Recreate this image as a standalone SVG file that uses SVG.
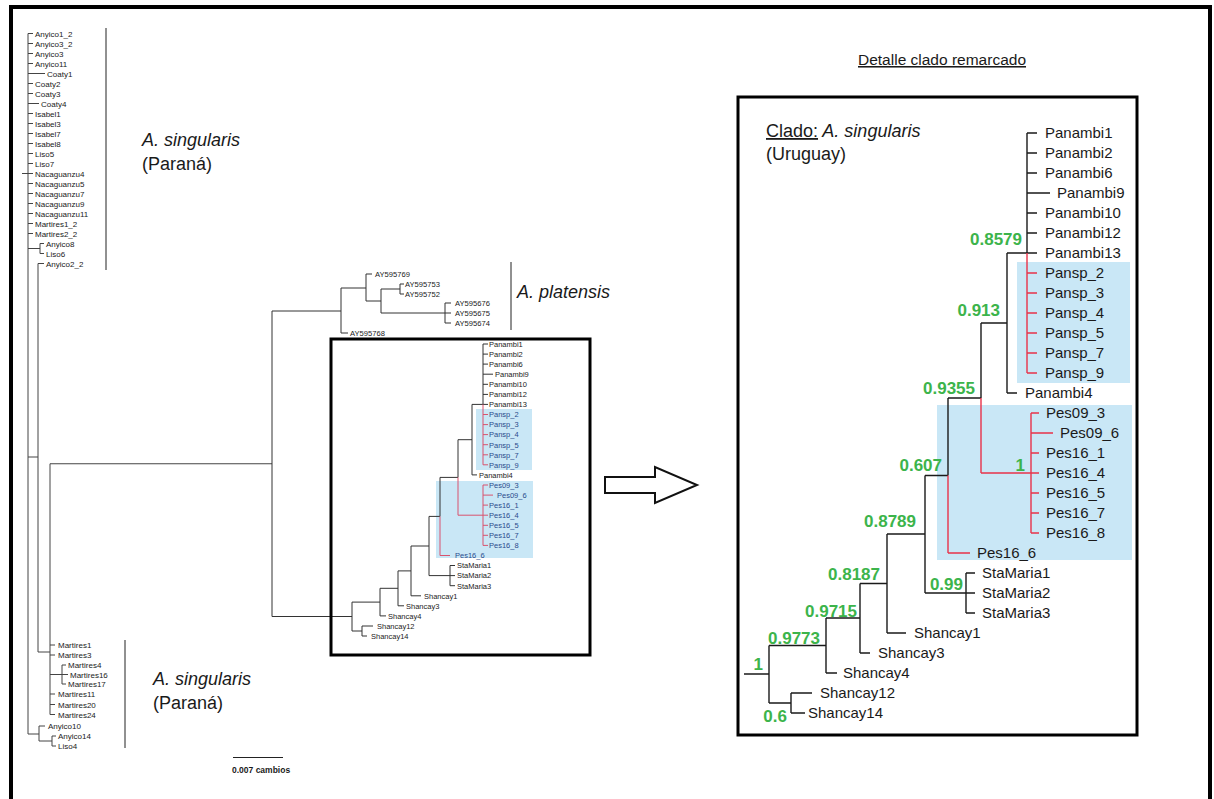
<svg xmlns="http://www.w3.org/2000/svg" width="1214" height="799" viewBox="0 0 1214 799">
<style>
text{font-family:"Liberation Sans",Arial,Helvetica,sans-serif;fill:#1a1a1a}
.l{font-size:8px}
.m{font-size:7.5px}
.mb{font-size:7.5px;fill:#2b4c8c}
.p{font-size:7.6px}
.d{font-size:15px}
.g{font-size:17px;font-weight:bold;fill:#3cb44b;text-anchor:end}
.big{font-size:18px}
.it{font-style:italic}
.tl{fill:none;stroke:#444;stroke-width:1}
.tm{fill:none;stroke:#333;stroke-width:1}
.rm{fill:none;stroke:#d9536e;stroke-width:1}
.td{fill:none;stroke:#1a1a1a;stroke-width:1.4}
.rd{fill:none;stroke:#e8334a;stroke-width:1.4}
.hl{fill:#c9e7f6}
.bar{stroke:#222;stroke-width:1}
</style>
<rect width="1214" height="799" fill="#fff"/>
<rect x="11" y="7" width="1199" height="800" fill="none" stroke="#000" stroke-width="4"/>

<!-- highlight boxes -->
<rect class="hl" x="476" y="409" width="56" height="61"/>
<rect class="hl" x="436" y="481" width="97" height="77"/>
<rect class="hl" x="1017" y="262" width="113" height="121"/>
<rect class="hl" x="937" y="405" width="195" height="155"/>

<g id="connectors">
<!-- left tree -->
<path class="tl" d="M28 33.5V734 M22 173.5H28
M28 33.5H33 M28 43.5H33 M28 53.5H33 M28 63.5H33 M28 73.5H45 M28 83.5H33 M28 93.5H33 M28 103.5H39
M28 113.5H33 M28 123.5H33 M28 133.5H33 M28 143.5H33 M28 153.5H33 M28 163.5H33 M28 173.5H33 M28 183.5H33
M28 193.5H33 M28 203.5H33 M28 213.5H33 M28 223.5H33 M28 233.5H33
M28 248.5H40 M40 243.5V253.5 M40 243.5H44 M40 253.5H44
M28 457H38 M38 263.5V652 M38 263.5H44 M38 652H50
M50 463.75V714.5 M50 463.75H272
M50 645H55 M50 655H55 M50 674.5H62 M62 665V684 M62 665H66 M62 674.5H68 M62 684H66 M50 694H55 M50 704.5H55 M50 714.5H55
M28 734H39 M39 726V741 M39 726H45 M39 741H52 M52 736V746 M52 736H56 M52 746H56"/>
<!-- platensis + middle tree -->
<path class="tm" d="M272 311V616.5 M272 311H341 M341 288V333 M341 333H348 M341 288H366 M366 274V301 M366 274H372 M366 301H381
M381 289V313 M381 289H400 M400 284V294 M400 284H404 M400 294H404 M381 313H445 M445 303V323 M445 303H451 M445 313H451 M445 323H451
M483 344V404.4 M483 344H488 M483 354.1H488 M483 364.1H488 M483 374.2H493 M483 384.3H488 M483 394.4H488 M483 404.4H488
M472 404.4H483 M472 404.4V474.9 M472 474.9H477 M458 439.7H472 M458 439.7V477.4
M440 477.4H458 M440 477.4V516.4
M429 516.4H440 M429 516.4V575.6 M429 575.6H450 M450 565.5V585.7 M450 565.5H455 M450 575.6H455 M450 585.7H455
M411 546H429 M411 546V595.8 M411 595.8H421
M398 570.9H411 M398 570.9V605.8 M398 605.8H404
M380 588.3H398 M380 588.3V615.9 M380 615.9H386
M352 602.1H380 M352 602.1V631 M352 631H362 M362 626V636 M362 626H373 M362 636H367
M272 616.5H352"/>
<path class="rm" d="M483 404.4V464.8 M483 414.5H488 M483 424.6H488 M483 434.6H488 M483 444.7H488 M483 454.8H488 M483 464.8H488
M458 477.4V515.2 M458 515.2H483 M483 485V545.4 M483 485H488 M483 495.1H493 M483 505.1H488 M483 515.2H488 M483 525.3H488 M483 535.3H488 M483 545.4H488
M440 516.4V555.5 M440 555.5H450"/>
<!-- detail tree -->
<path class="td" d="M1027 133V253 M1027 133H1037 M1027 153H1037 M1027 173H1037 M1027 193H1050 M1027 213H1037 M1027 233H1037 M1027 253H1037
M1007 253H1027 M1007 253V393 M1007 393H1017 M981 323H1007 M981 323V398
M948 398H981 M948 398V475.5
M925 475.5H948 M925 475.5V593 M925 593H966 M966 573V613 M966 573H975 M966 593H975 M966 613H975
M887 534H925 M887 534V633 M887 633H906
M860 583.5H887 M860 583.5V653 M860 653H870
M826 618H860 M826 618V673 M826 673H837
M769 645.5H826 M769 645.5V703 M769 703H791 M791 693V713 M791 693H812 M791 713H805
M744 674H769"/>
<path class="rd" d="M1027 253V373 M1027 273H1037 M1027 293H1037 M1027 313H1037 M1027 333H1037 M1027 353H1037 M1027 373H1037
M981 398V473 M981 473H1031 M1031 413V533 M1031 413H1039 M1031 433H1053 M1031 453H1039 M1031 473H1039 M1031 493H1039 M1031 513H1039 M1031 533H1039
M948 475.5V553 M948 553H970"/>
</g>

<!-- brackets, frames -->
<line class="bar" x1="106" y1="28" x2="106" y2="270"/>
<line class="bar" x1="125" y1="640" x2="125" y2="748"/>
<line class="bar" x1="511" y1="262" x2="511" y2="330"/>
<rect x="331" y="339" width="259" height="316" fill="none" stroke="#000" stroke-width="3"/>
<rect x="738" y="97" width="399" height="638" fill="none" stroke="#000" stroke-width="3"/>
<polygon points="605,477 655,477 655,467 697,485 655,503 655,493 605,493" fill="#fff" stroke="#111" stroke-width="2"/>
<line x1="233" y1="757.5" x2="283" y2="757.5" stroke="#222" stroke-width="1"/>

<!-- left leaves -->
<g id="left-leaves" class="l">
<g id="Anyico1_2"><text x="35" y="36.5">Anyico1_2</text></g>
<g id="Anyico3_2"><text x="35" y="46.5">Anyico3_2</text></g>
<g id="Anyico3"><text x="35" y="56.5">Anyico3</text></g>
<g id="Anyico11"><text x="35" y="66.5">Anyico11</text></g>
<g id="Coaty1"><text x="47" y="76.5">Coaty1</text></g>
<g id="Coaty2"><text x="35" y="86.5">Coaty2</text></g>
<g id="Coaty3"><text x="35" y="96.5">Coaty3</text></g>
<g id="Coaty4"><text x="41" y="106.5">Coaty4</text></g>
<g id="Isabel1"><text x="35" y="116.5">Isabel1</text></g>
<g id="Isabel3"><text x="35" y="126.5">Isabel3</text></g>
<g id="Isabel7"><text x="35" y="136.5">Isabel7</text></g>
<g id="Isabel8"><text x="35" y="146.5">Isabel8</text></g>
<g id="Liso5"><text x="35" y="156.5">Liso5</text></g>
<g id="Liso7"><text x="35" y="166.5">Liso7</text></g>
<g id="Nacaguanzu4"><text x="35" y="176.5">Nacaguanzu4</text></g>
<g id="Nacaguanzu5"><text x="35" y="186.5">Nacaguanzu5</text></g>
<g id="Nacaguanzu7"><text x="35" y="196.5">Nacaguanzu7</text></g>
<g id="Nacaguanzu9"><text x="35" y="206.5">Nacaguanzu9</text></g>
<g id="Nacaguanzu11"><text x="35" y="216.5">Nacaguanzu11</text></g>
<g id="Martires1_2"><text x="35" y="226.5">Martires1_2</text></g>
<g id="Martires2_2"><text x="35" y="236.5">Martires2_2</text></g>
<g id="Anyico8"><text x="46" y="246.5">Anyico8</text></g>
<g id="Liso6"><text x="46" y="256.5">Liso6</text></g>
<g id="Anyico2_2"><text x="46" y="266.5">Anyico2_2</text></g>
<g id="Martires1"><text x="58" y="648">Martires1</text></g>
<g id="Martires3"><text x="58" y="658">Martires3</text></g>
<g id="Martires4"><text x="68" y="668">Martires4</text></g>
<g id="Martires16"><text x="70" y="677.5">Martires16</text></g>
<g id="Martires17"><text x="68" y="687">Martires17</text></g>
<g id="Martires11"><text x="58" y="697">Martires11</text></g>
<g id="Martires20"><text x="58" y="707.5">Martires20</text></g>
<g id="Martires24"><text x="58" y="717.5">Martires24</text></g>
<g id="Anyico10"><text x="48" y="729">Anyico10</text></g>
<g id="Anyico14"><text x="58" y="739">Anyico14</text></g>
<g id="Liso4"><text x="58" y="749">Liso4</text></g>
</g>

<g id="labels-left">
<text class="big it" x="142" y="146">A. singularis</text>
<text class="big" x="142" y="170">(Paraná)</text>
<text class="big it" x="153" y="685">A. singularis</text>
<text class="big" x="153" y="709">(Paraná)</text>
<text x="232" y="773" style="font-size:8.5px;font-weight:bold">0.007 cambios</text>
<text class="big it" x="517" y="298">A. platensis</text>
</g>

<!-- platensis leaves -->
<g id="platensis-leaves" class="p">
<g id="AY595769"><text x="375" y="277">AY595769</text></g>
<g id="AY595753"><text x="405" y="287">AY595753</text></g>
<g id="AY595752"><text x="405" y="297">AY595752</text></g>
<g id="AY595676"><text x="455" y="306">AY595676</text></g>
<g id="AY595675"><text x="455" y="316">AY595675</text></g>
<g id="AY595674"><text x="455" y="326">AY595674</text></g>
<g id="AY595768"><text x="350" y="335.5">AY595768</text></g>
</g>

<!-- middle leaves -->
<g id="middle-leaves">
<g id="m-Panambi1"><text class="m" x="489" y="346.8">Panambi1</text></g>
<g id="m-Panambi2"><text class="m" x="489" y="356.9">Panambi2</text></g>
<g id="m-Panambi6"><text class="m" x="489" y="366.9">Panambi6</text></g>
<g id="m-Panambi9"><text class="m" x="495" y="377">Panambi9</text></g>
<g id="m-Panambi10"><text class="m" x="489" y="387.1">Panambi10</text></g>
<g id="m-Panambi12"><text class="m" x="489" y="397.2">Panambi12</text></g>
<g id="m-Panambi13"><text class="m" x="489" y="407.2">Panambi13</text></g>
<g id="m-Pansp_2"><text class="mb" x="489" y="417.3">Pansp_2</text></g>
<g id="m-Pansp_3"><text class="mb" x="489" y="427.4">Pansp_3</text></g>
<g id="m-Pansp_4"><text class="mb" x="489" y="437.4">Pansp_4</text></g>
<g id="m-Pansp_5"><text class="mb" x="489" y="447.5">Pansp_5</text></g>
<g id="m-Pansp_7"><text class="mb" x="489" y="457.6">Pansp_7</text></g>
<g id="m-Pansp_9"><text class="mb" x="489" y="467.6">Pansp_9</text></g>
<g id="m-Panambi4"><text class="m" x="479" y="477.7">Panambi4</text></g>
<g id="m-Pes09_3"><text class="mb" x="489" y="487.8">Pes09_3</text></g>
<g id="m-Pes09_6"><text class="mb" x="497" y="497.9">Pes09_6</text></g>
<g id="m-Pes16_1"><text class="mb" x="489" y="507.9">Pes16_1</text></g>
<g id="m-Pes16_4"><text class="mb" x="489" y="518">Pes16_4</text></g>
<g id="m-Pes16_5"><text class="mb" x="489" y="528.1">Pes16_5</text></g>
<g id="m-Pes16_7"><text class="mb" x="489" y="538.1">Pes16_7</text></g>
<g id="m-Pes16_8"><text class="mb" x="489" y="548.2">Pes16_8</text></g>
<g id="m-Pes16_6"><text class="mb" x="455" y="558.3">Pes16_6</text></g>
<g id="m-StaMaria1"><text class="m" x="457" y="568.3">StaMaria1</text></g>
<g id="m-StaMaria2"><text class="m" x="457" y="578.4">StaMaria2</text></g>
<g id="m-StaMaria3"><text class="m" x="457" y="588.5">StaMaria3</text></g>
<g id="m-Shancay1"><text class="m" x="424" y="598.6">Shancay1</text></g>
<g id="m-Shancay3"><text class="m" x="406" y="608.6">Shancay3</text></g>
<g id="m-Shancay4"><text class="m" x="388" y="618.7">Shancay4</text></g>
<g id="m-Shancay12"><text class="m" x="377" y="628.8">Shancay12</text></g>
<g id="m-Shancay14"><text class="m" x="371" y="638.8">Shancay14</text></g>
</g>

<!-- detail -->
<g id="detail-titles">
<text x="858" y="65" style="font-size:15.5px;text-decoration:underline">Detalle clado remarcado</text>
<text class="big" x="766" y="137"><tspan style="text-decoration:underline">Clado:</tspan><tspan class="it"> A. singularis</tspan></text>
<text class="big" x="766" y="160">(Uruguay)</text>
</g>
<g id="detail-leaves" class="d">
<g id="d-Panambi1"><text x="1045" y="138.3">Panambi1</text></g>
<g id="d-Panambi2"><text x="1045" y="158.3">Panambi2</text></g>
<g id="d-Panambi6"><text x="1045" y="178.3">Panambi6</text></g>
<g id="d-Panambi9"><text x="1057" y="198.3">Panambi9</text></g>
<g id="d-Panambi10"><text x="1045" y="218.3">Panambi10</text></g>
<g id="d-Panambi12"><text x="1045" y="238.3">Panambi12</text></g>
<g id="d-Panambi13"><text x="1045" y="258.3">Panambi13</text></g>
<g id="d-Pansp_2"><text x="1045" y="278.3">Pansp_2</text></g>
<g id="d-Pansp_3"><text x="1045" y="298.3">Pansp_3</text></g>
<g id="d-Pansp_4"><text x="1045" y="318.3">Pansp_4</text></g>
<g id="d-Pansp_5"><text x="1045" y="338.3">Pansp_5</text></g>
<g id="d-Pansp_7"><text x="1045" y="358.3">Pansp_7</text></g>
<g id="d-Pansp_9"><text x="1045" y="378.3">Pansp_9</text></g>
<g id="d-Panambi4"><text x="1025" y="398.3">Panambi4</text></g>
<g id="d-Pes09_3"><text x="1046" y="418.3">Pes09_3</text></g>
<g id="d-Pes09_6"><text x="1060" y="438.3">Pes09_6</text></g>
<g id="d-Pes16_1"><text x="1046" y="458.3">Pes16_1</text></g>
<g id="d-Pes16_4"><text x="1046" y="478.3">Pes16_4</text></g>
<g id="d-Pes16_5"><text x="1046" y="498.3">Pes16_5</text></g>
<g id="d-Pes16_7"><text x="1046" y="518.3">Pes16_7</text></g>
<g id="d-Pes16_8"><text x="1046" y="538.3">Pes16_8</text></g>
<g id="d-Pes16_6"><text x="977" y="558.3">Pes16_6</text></g>
<g id="d-StaMaria1"><text x="982" y="578.3">StaMaria1</text></g>
<g id="d-StaMaria2"><text x="982" y="598.3">StaMaria2</text></g>
<g id="d-StaMaria3"><text x="982" y="618.3">StaMaria3</text></g>
<g id="d-Shancay1"><text x="914" y="638.3">Shancay1</text></g>
<g id="d-Shancay3"><text x="878" y="658.3">Shancay3</text></g>
<g id="d-Shancay4"><text x="843" y="678.3">Shancay4</text></g>
<g id="d-Shancay12"><text x="820" y="698.3">Shancay12</text></g>
<g id="d-Shancay14"><text x="808" y="718.3">Shancay14</text></g>
</g>
<g id="support-values">
<text class="g" x="1022" y="245">0.8579</text>
<text class="g" x="1000" y="316">0.913</text>
<text class="g" x="975" y="394">0.9355</text>
<text class="g" x="1025" y="471">1</text>
<text class="g" x="942" y="471">0.607</text>
<text class="g" x="916" y="527">0.8789</text>
<text class="g" x="963" y="590">0.99</text>
<text class="g" x="880" y="580">0.8187</text>
<text class="g" x="857" y="617">0.9715</text>
<text class="g" x="820" y="644">0.9773</text>
<text class="g" x="763" y="670">1</text>
<text class="g" x="787" y="722">0.6</text>
</g>
</svg>
